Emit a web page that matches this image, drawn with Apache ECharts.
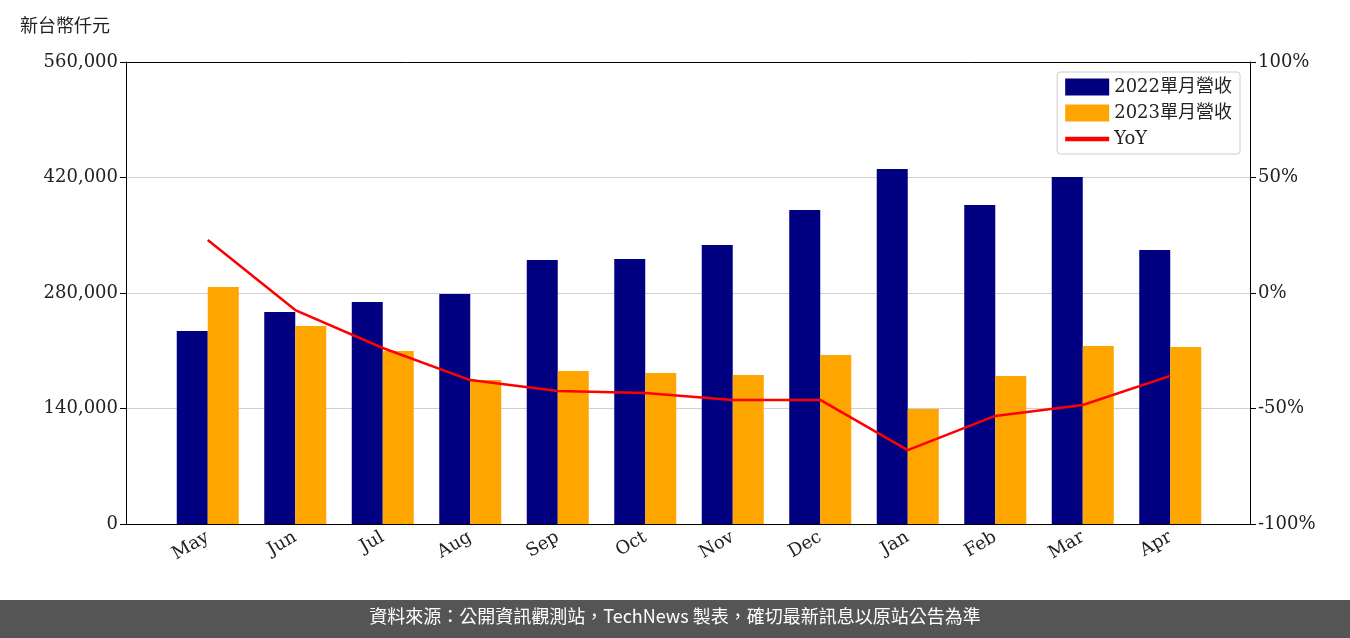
<!DOCTYPE html>
<html><head><meta charset="utf-8">
<script src="https://cdn.jsdelivr.net/npm/echarts@6/dist/echarts.min.js"></script>
<style>html,body{margin:0;padding:0;background:#fff}#c{width:1350px;height:638px}</style>
</head><body><div id="c"></div>
<script>
const categories=['May','Jun','Jul','Aug','Sep','Oct','Nov','Dec','Jan','Feb','Mar','Apr'];
const rev2022=[233900,257000,269100,278800,320000,321200,338200,380600,430300,386700,420600,332100];
const rev2023=[287300,240000,209700,174500,185500,183000,180600,204800,139400,179400,215800,214500];
const yoy=[22.9,-7.4,-23.8,-37.7,-42.4,-43.3,-46.3,-46.3,-68.0,-53.2,-48.5,-35.9];
const F='"DejaVu Serif","Noto Sans CJK TC",serif';
const lab={fontSize:18,color:'#222',fontFamily:F};
const chart=echarts.init(document.getElementById('c'));
chart.setOption({
  animation:false,
  textStyle:{fontFamily:F},
  grid:[{left:126,right:100,top:62,bottom:114},{left:164,right:136,top:62,bottom:114}],
  graphic:[
    {type:'text',left:20,top:16,style:{text:'新台幣仟元',font:'18px "Noto Sans CJK TC"',fill:'#222'}},
    {type:'rect',left:0,top:600,shape:{width:1350,height:38},style:{fill:'#555'}},
    {type:'text',left:'center',top:607,style:{text:'資料來源：公開資訊觀測站，TechNews 製表，確切最新訊息以原站公告為準',font:'18px "Noto Sans CJK TC"',fill:'#fff'}}
  ],
  legend:{right:110,top:72,orient:'vertical',itemWidth:44,itemHeight:17,itemGap:8,
    backgroundColor:'#fff',borderColor:'#ccc',borderWidth:1,borderRadius:3,padding:[6,8],
    textStyle:{fontFamily:F,fontSize:18,color:'#222'},
    data:[{name:'2022單月營收',icon:'rect'},{name:'2023單月營收',icon:'rect'},{name:'YoY',icon:'path://M0,0H10V1H0Z'}]},
  xAxis:[
    {type:'value',gridIndex:0,min:0,max:1,position:'bottom',axisLine:{show:true,onZero:false,lineStyle:{color:'#000'}},axisTick:{show:false},axisLabel:{show:false},splitLine:{show:false}},
    {type:'value',gridIndex:0,min:0,max:1,position:'top',axisLine:{show:true,onZero:false,lineStyle:{color:'#000'}},axisTick:{show:false},axisLabel:{show:false},splitLine:{show:false}},
    {type:'category',gridIndex:1,data:categories,axisLine:{show:false,onZero:false},
      axisTick:{alignWithLabel:true,length:6,lineStyle:{color:'#000'}},
      axisLabel:Object.assign({rotate:30,margin:12},lab)}
  ],
  yAxis:[
    {type:'value',gridIndex:0,min:0,max:560000,interval:140000,
      axisLine:{show:true,onZero:false,lineStyle:{color:'#000'}},axisTick:{show:true,length:6,lineStyle:{color:'#000'}},
      splitLine:{lineStyle:{color:'#d0d0d0'}},
      axisLabel:Object.assign({formatter:v=>v.toLocaleString('en-US')},lab)},
    {type:'value',gridIndex:0,min:-100,max:100,interval:50,
      axisLine:{show:true,onZero:false,lineStyle:{color:'#000'}},axisTick:{show:true,length:6,lineStyle:{color:'#000'}},
      splitLine:{show:false},axisLabel:Object.assign({formatter:'{value}%'},lab)},
    {type:'value',gridIndex:1,min:0,max:560000,show:false,splitLine:{show:false}},
    {type:'value',gridIndex:1,min:-100,max:100,show:false,splitLine:{show:false}}
  ],
  series:[
    {name:'2022單月營收',type:'bar',xAxisIndex:2,yAxisIndex:2,data:rev2022,barWidth:31,barGap:'0%',itemStyle:{color:'#000080'}},
    {name:'2023單月營收',type:'bar',xAxisIndex:2,yAxisIndex:2,data:rev2023,barWidth:31,itemStyle:{color:'#FFA500'}},
    {name:'YoY',type:'line',xAxisIndex:2,yAxisIndex:3,data:yoy,symbol:'none',lineStyle:{color:'#ff0000',width:2.5},itemStyle:{color:'#ff0000'}}
  ]
});
</script></body></html>
